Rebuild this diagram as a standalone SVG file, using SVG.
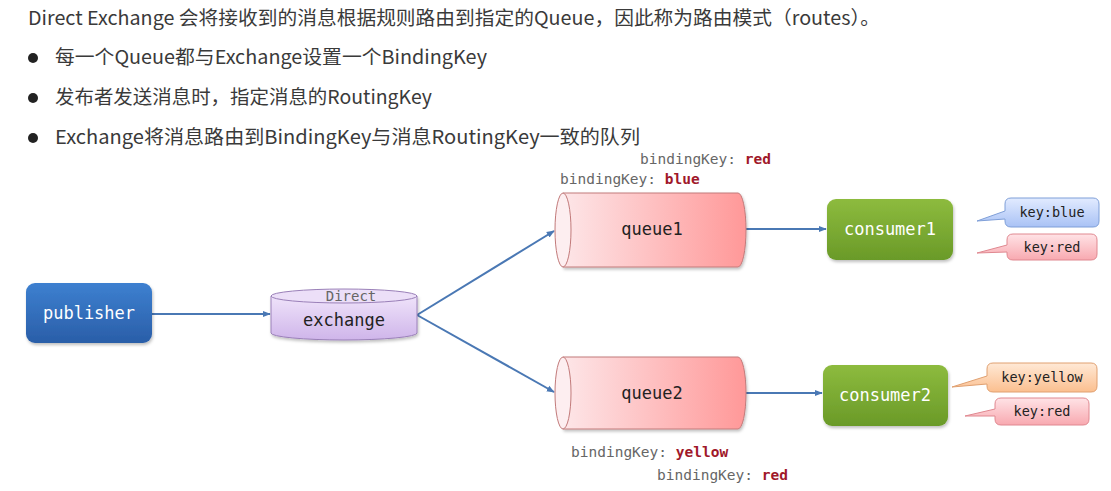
<svg xmlns="http://www.w3.org/2000/svg" width="1111" height="491" viewBox="0 0 1111 491">
<defs>
<linearGradient id="gPub" x1="0" y1="0" x2="0" y2="1"><stop offset="0" stop-color="#3d80d0"/><stop offset="1" stop-color="#2a5ea8"/></linearGradient>
<linearGradient id="gCon" x1="0" y1="0" x2="0" y2="1"><stop offset="0" stop-color="#8dbb3e"/><stop offset="1" stop-color="#6a9a28"/></linearGradient>
<linearGradient id="gQ" x1="0" y1="0" x2="1" y2="0"><stop offset="0" stop-color="#fde6e8"/><stop offset="1" stop-color="#ff9898"/></linearGradient>
<linearGradient id="gEx" x1="0" y1="0" x2="0" y2="1"><stop offset="0" stop-color="#efe3fa"/><stop offset="1" stop-color="#cfb5ea"/></linearGradient>
<linearGradient id="gBlue" x1="0" y1="0" x2="0" y2="1"><stop offset="0" stop-color="#e2ebff"/><stop offset="1" stop-color="#a9c2f5"/></linearGradient>
<linearGradient id="gRed" x1="0" y1="0" x2="0" y2="1"><stop offset="0" stop-color="#ffe3e6"/><stop offset="1" stop-color="#f8a9b0"/></linearGradient>
<linearGradient id="gYel" x1="0" y1="0" x2="0" y2="1"><stop offset="0" stop-color="#ffe9d6"/><stop offset="1" stop-color="#fbbf8f"/></linearGradient>
<filter id="sh" x="-10%" y="-10%" width="130%" height="140%"><feDropShadow dx="1" dy="2" stdDeviation="1.5" flood-color="#000" flood-opacity="0.25"/></filter>
<marker id="arr" viewBox="0 0 10 10" refX="9" refY="5" markerWidth="8" markerHeight="8" orient="auto" markerUnits="userSpaceOnUse"><path d="M0,1 L10,5 L0,9 Z" fill="#4a78b4"/></marker>
</defs>
<style>
.t{font-family:"Noto Sans CJK SC","Noto Sans",sans-serif;font-size:19px;fill:#3a3a3a}
.m{font-family:"DejaVu Sans Mono","Liberation Mono",monospace}
.node{font-size:17px;text-anchor:middle}
.w{fill:#ffffff}
.k{fill:#222}
.bk{font-size:14.5px;fill:#666}
.rv{fill:#a0182a;font-weight:bold}
.cl{font-size:13.5px;text-anchor:middle;fill:#222}
.line{stroke:#4a78b4;stroke-width:2;fill:none}
</style>
<g id="text">
<text class="t" x="28" y="25" textLength="852" lengthAdjust="spacingAndGlyphs">Direct Exchange 会将接收到的消息根据规则路由到指定的Queue，因此称为路由模式（routes）。</text>
<circle cx="33" cy="58" r="5" fill="#222"/>
<text class="t" x="55" y="64" textLength="432" lengthAdjust="spacingAndGlyphs">每一个Queue都与Exchange设置一个BindingKey</text>
<circle cx="33" cy="98" r="5" fill="#222"/>
<text class="t" x="55" y="104" textLength="377" lengthAdjust="spacingAndGlyphs">发布者发送消息时，指定消息的RoutingKey</text>
<circle cx="33" cy="138" r="5" fill="#222"/>
<text class="t" x="55" y="144" textLength="585" lengthAdjust="spacingAndGlyphs">Exchange将消息路由到BindingKey与消息RoutingKey一致的队列</text>
</g>
<g id="connectors">
<path class="line" d="M152,314 H270" marker-end="url(#arr)"/>
<path class="line" d="M417,315 L554,231" marker-end="url(#arr)"/>
<path class="line" d="M417,315 L554,392" marker-end="url(#arr)"/>
<path class="line" d="M745,229 H826" marker-end="url(#arr)"/>
<path class="line" d="M745,393 H822" marker-end="url(#arr)"/>
</g>
<g id="publisher">
<rect x="26" y="283" width="126" height="60" rx="9" fill="url(#gPub)" filter="url(#sh)"/>
<text class="m node w" x="89" y="319">publisher</text>
</g>
<g id="exchange">
<path d="M271,296 V333 A73,7 0 0 0 417,333 V296 Z" fill="url(#gEx)" stroke="#9a80b8" stroke-width="1" filter="url(#sh)"/>
<ellipse cx="344" cy="296" rx="73" ry="7" fill="#ecdff8" stroke="#9a80b8" stroke-width="1"/>
<text class="m" x="351" y="301" font-size="14" fill="#666" text-anchor="middle">Direct</text>
<text class="m node k" x="344" y="326">exchange</text>
</g>
<g id="queue1">
<path d="M563,193 H738 A8,37 0 0 1 738,267 H563 Z" fill="url(#gQ)" stroke="#c27a7a" stroke-width="1" filter="url(#sh)"/>
<ellipse cx="563" cy="230" rx="8" ry="37" fill="#fdeef0" stroke="#c27a7a" stroke-width="1"/>
<text class="m node k" x="652" y="235">queue1</text>
</g>
<g id="queue2">
<path d="M563,357 H738 A8,36 0 0 1 738,429 H563 Z" fill="url(#gQ)" stroke="#c27a7a" stroke-width="1" filter="url(#sh)"/>
<ellipse cx="563" cy="393" rx="8" ry="36" fill="#fdeef0" stroke="#c27a7a" stroke-width="1"/>
<text class="m node k" x="652" y="399">queue2</text>
</g>
<g id="consumer1">
<rect x="827" y="199" width="126" height="61" rx="9" fill="url(#gCon)" filter="url(#sh)"/>
<text class="m node w" x="890" y="235">consumer1</text>
</g>
<g id="consumer2">
<rect x="823" y="365" width="125" height="61" rx="9" fill="url(#gCon)" filter="url(#sh)"/>
<text class="m node w" x="885" y="401">consumer2</text>
</g>
<g id="bindingKeys">
<text class="m bk" x="640" y="164">bindingKey: <tspan class="rv">red</tspan></text>
<text class="m bk" x="560" y="184">bindingKey: <tspan class="rv">blue</tspan></text>
<text class="m bk" x="571" y="457">bindingKey: <tspan class="rv">yellow</tspan></text>
<text class="m bk" x="657" y="480">bindingKey: <tspan class="rv">red</tspan></text>
</g>
<g id="callout-blue">
<path d="M1011,198 H1093 Q1099,198 1099,204 V221 Q1099,227 1093,227 H1011 Q1005,227 1005,221 V219 L977,221 L1005,211 V204 Q1005,198 1011,198 Z" fill="url(#gBlue)" stroke="#7f9fd8" stroke-width="1"/>
<text class="m cl" x="1052" y="217">key:blue</text>
</g>
<g id="callout-red1">
<path d="M1013,234 H1091 Q1097,234 1097,240 V254 Q1097,260 1091,260 H1013 Q1007,260 1007,254 V252 L977,253 L1007,245 V240 Q1007,234 1013,234 Z" fill="url(#gRed)" stroke="#e08890" stroke-width="1"/>
<text class="m cl" x="1052" y="252">key:red</text>
</g>
<g id="callout-yellow">
<path d="M993,363 H1091 Q1097,363 1097,369 V386 Q1097,392 1091,392 H993 Q987,392 987,386 V384 L952,387 L987,376 V369 Q987,363 993,363 Z" fill="url(#gYel)" stroke="#e0a070" stroke-width="1"/>
<text class="m cl" x="1042" y="382">key:yellow</text>
</g>
<g id="callout-red2">
<path d="M1001,398 H1083 Q1089,398 1089,404 V419 Q1089,425 1083,425 H1001 Q995,425 995,419 V416 L965,416 L995,409 V404 Q995,398 1001,398 Z" fill="url(#gRed)" stroke="#e08890" stroke-width="1"/>
<text class="m cl" x="1042" y="416">key:red</text>
</g>
</svg>
